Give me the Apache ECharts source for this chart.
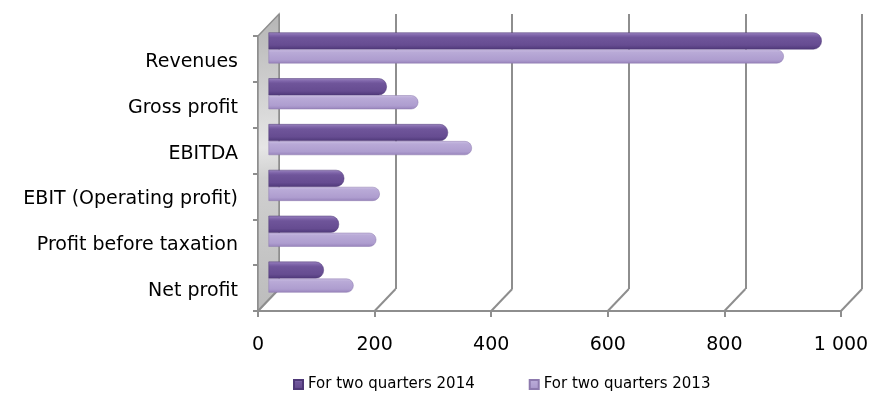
<!DOCTYPE html>
<html>
<head>
<meta charset="utf-8">
<script src="https://cdn.jsdelivr.net/npm/echarts@6/dist/echarts.min.js"></script>
<style>
  html, body { margin: 0; padding: 0; background: #fff; }
  #chart { width: 872px; height: 410px; }
</style>
</head>
<body>
<div id="chart"></div>
<script>
// Key financial indicators, first half of the year
const categories = ['Revenues', 'Gross profit', 'EBITDA', 'EBIT (Operating profit)', 'Profit before taxation', 'Net profit'];
const values2014 = [949, 203, 308, 130, 121, 95];
const values2013 = [884, 257, 349, 191, 185, 146];
const seriesNames = ['For two quarters 2014', 'For two quarters 2013'];
const xTicks = [0, 200, 400, 600, 800, 1000];

// Pseudo-3D layout: front plane, back wall and the mid-depth plane the bars sit on
const FRONT = { left: 258, right: 31, top: 36, bottom: 99 };
const DX = 21, DY = -22;
const shift = (g, k) => ({
  left: g.left + DX * k, right: g.right - DX * k,
  top: g.top + DY * k, bottom: g.bottom - DY * k
});
const BACK = shift(FRONT, 1);
const MID = shift(FRONT, 0.5);

const FONT = 'DejaVu Sans, Verdana, sans-serif';
const LINE = '#8e8e8e';

const grad = (stops) => new echarts.graphic.LinearGradient(0, 0, 0, 1,
  stops.map(([offset, color]) => ({ offset, color })));

// the rear bar shows its top face, hence the lighter upper band
const dark = grad([[0, '#9a84bf'], [0.18, '#7d63a8'], [0.3, '#6f559a'], [0.75, '#664c91'], [1, '#4e3878']]);
const light = grad([[0, '#cbbfe3'], [0.2, '#b9aad7'], [0.75, '#ae9dcf'], [1, '#9783bb']]);

const fmt = v => String(v).replace(/\B(?=(\d{3})+(?!\d))/g, ' ');

const chart = echarts.init(document.getElementById('chart'), null, { renderer: 'canvas' });

chart.setOption({
  animation: false,
  backgroundColor: '#ffffff',
  textStyle: { fontFamily: FONT },
  grid: [
    Object.assign({}, FRONT, { containLabel: false }),
    Object.assign({}, BACK, { containLabel: false }),
    Object.assign({}, MID, { containLabel: false })
  ],
  legend: {
    data: seriesNames,
    left: 288,
    top: 372,
    icon: 'rect',
    itemWidth: 9,
    itemHeight: 9,
    itemGap: 54,
    textStyle: { fontFamily: FONT, fontSize: 15, color: '#000' }
  },
  xAxis: [
    {
      gridIndex: 0, type: 'value', min: 0, max: 1000, interval: 200,
      axisLine: { show: true, lineStyle: { color: LINE, width: 2 } },
      axisTick: { show: true, length: 6, lineStyle: { color: LINE, width: 2 } },
      splitLine: { show: false },
      axisLabel: { margin: 25, fontSize: 19, color: '#000', fontFamily: FONT, formatter: fmt }
    },
    {
      gridIndex: 1, type: 'value', min: 0, max: 1000, interval: 200,
      axisLine: { show: false }, axisTick: { show: false }, axisLabel: { show: false },
      splitLine: { show: true, lineStyle: { color: LINE, width: 2 } }
    },
    {
      gridIndex: 2, type: 'value', min: 0, max: 1000, interval: 200,
      show: false, splitLine: { show: false }
    }
  ],
  yAxis: [
    {
      gridIndex: 0, type: 'category', data: categories, inverse: true,
      axisLine: { show: true, lineStyle: { color: LINE, width: 2 } },
      axisTick: { show: true, length: 5, lineStyle: { color: LINE, width: 2 } },
      axisLabel: {
        margin: 20, color: '#000', fontFamily: FONT,
        formatter: v => '{c|' + v + '}',
        rich: { c: { fontSize: 19, fontFamily: FONT, color: '#000', padding: [6, 0, 0, 0] } }
      }
    },
    { gridIndex: 1, type: 'category', data: categories, inverse: true, show: false },
    { gridIndex: 2, type: 'category', data: categories, inverse: true, show: false }
  ],
  series: [
    {
      // left wall and the receding floor lines
      type: 'custom',
      xAxisIndex: 0, yAxisIndex: 0,
      z: 1,
      silent: true,
      data: xTicks.map(v => [v]),
      encode: { x: 0 },
      renderItem: (params, api) => {
        const cs = params.coordSys;
        const x = api.coord([api.value(0), 0])[0];
        const bottom = cs.y + cs.height;
        const children = [{
          type: 'line',
          shape: { x1: x, y1: bottom, x2: x + DX, y2: bottom + DY },
          style: { stroke: LINE, lineWidth: 2 }
        }];
        if (api.value(0) === 0) {
          children.unshift({
            type: 'polygon',
            shape: { points: [[x, cs.y], [x, bottom], [x + DX, bottom + DY], [x + DX, cs.y + DY]] },
            style: {
              fill: new echarts.graphic.LinearGradient(0, 0, 1, 1, [
                { offset: 0, color: '#b4b4b4' },
                { offset: 0.45, color: '#e6e6e6' },
                { offset: 0.55, color: '#d0d0d0' },
                { offset: 1, color: '#bcbcbc' }
              ]),
              stroke: LINE, lineWidth: 1.5
            }
          });
        }
        return { type: 'group', children };
      }
    },
    {
      name: seriesNames[0],
      type: 'bar',
      xAxisIndex: 2, yAxisIndex: 2,
      z: 3,
      data: values2014,
      barWidth: 17,
      barGap: '0%',
      itemStyle: { color: dark, borderRadius: [0, 8, 8, 0], borderColor: '#4e3877', borderWidth: 0.5 }
    },
    {
      name: seriesNames[1],
      type: 'bar',
      xAxisIndex: 2, yAxisIndex: 2,
      z: 3,
      data: values2013,
      barWidth: 14,
      barGap: '0%',
      itemStyle: { color: light, borderRadius: [0, 7, 7, 0], borderColor: '#8d7aae', borderWidth: 0.5 }
    }
  ]
});
</script>
</body>
</html>
